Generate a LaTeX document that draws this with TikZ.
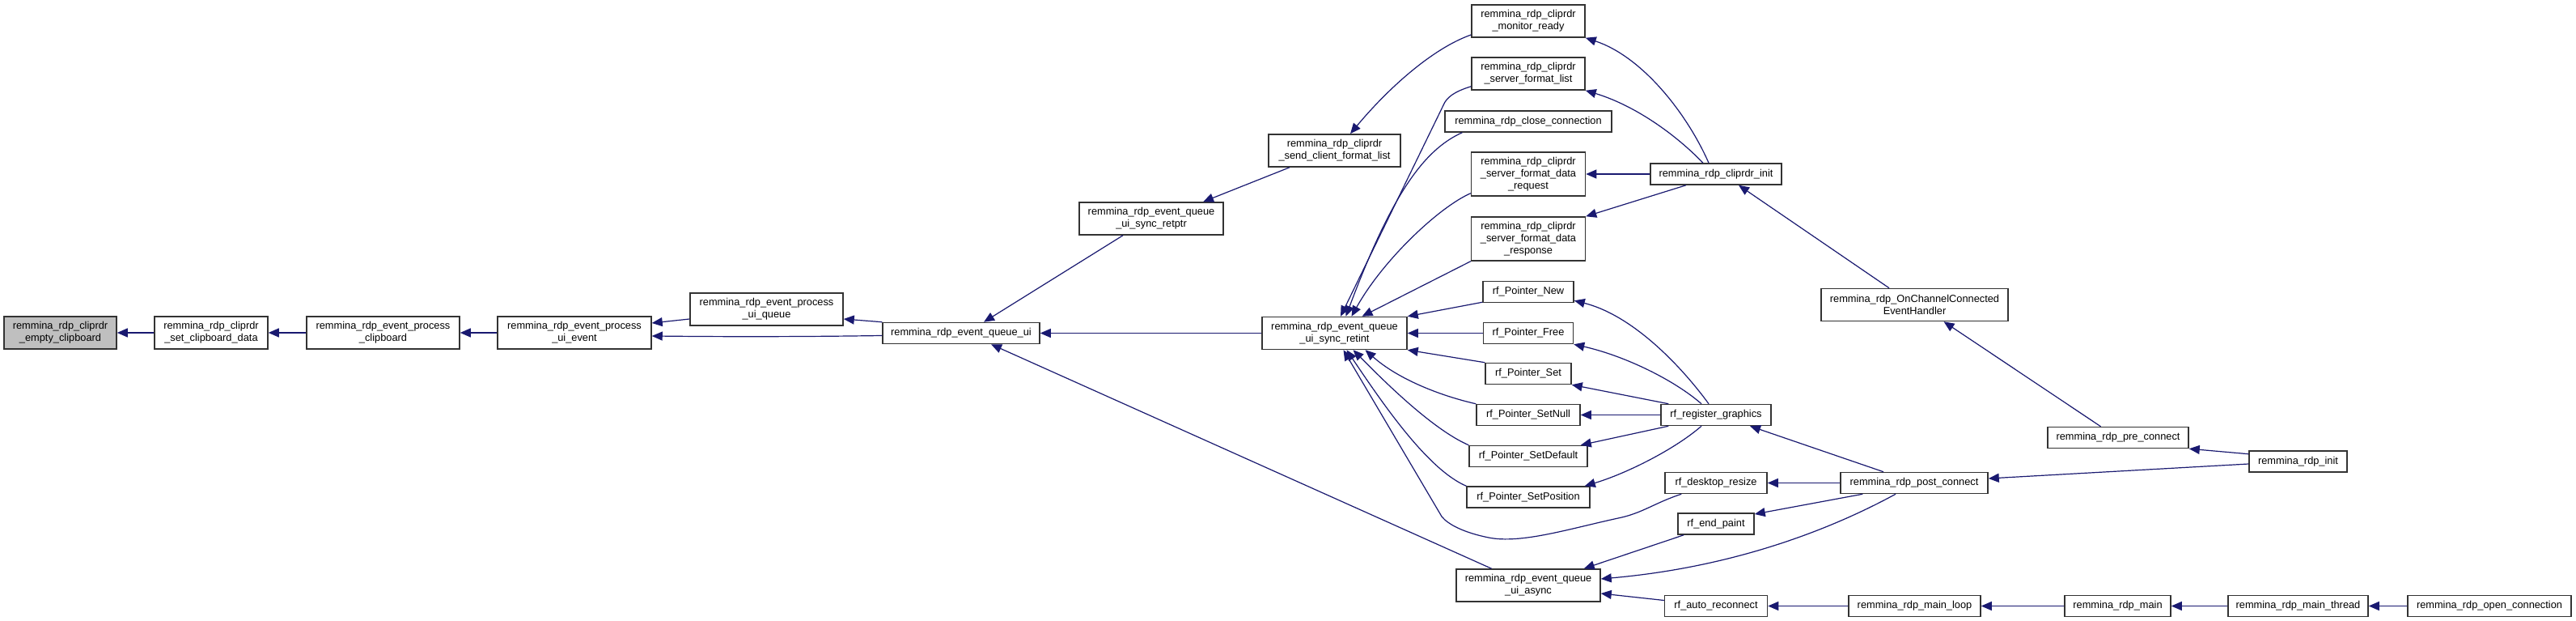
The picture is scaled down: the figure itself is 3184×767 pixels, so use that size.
\documentclass[tikz,border=0pt]{standalone}
\usepackage{fontspec}
\setmainfont{Liberation Sans}
\usetikzlibrary{arrows.meta,calc}
\definecolor{edgeblue}{HTML}{191970}
\definecolor{rootgray}{HTML}{BFBFBF}
\definecolor{boxline}{HTML}{333333}
\tikzset{
  fn/.style={draw=boxline, line width=1.5pt, fill=white, rectangle, inner xsep=0pt, inner ysep=0pt,
    align=center, font=\fontsize{12.8}{15}\selectfont, minimum height=26pt},
  two/.style={minimum height=40pt},
  three/.style={minimum height=54pt},
  root/.style={fill=rootgray},
  call/.style={draw=edgeblue, line width=1.2pt, -{Triangle[length=13pt,width=11pt]}},
}
\begin{document}
\begin{tikzpicture}[x=1pt,y=-1pt]
\fill[white] (0,0) rectangle (3184,767);
\useasboundingbox (0,0) rectangle (3184,767);
% left chain
\node[fn,two,root,minimum width=139pt] (n1) at (74.5,411) {remmina\_rdp\_cliprdr\\\_empty\_clipboard};
\node[fn,two,minimum width=140pt] (n2) at (261,411) {remmina\_rdp\_cliprdr\\\_set\_clipboard\_data};
\node[fn,two,minimum width=189pt] (n3) at (473.5,411) {remmina\_rdp\_event\_process\\\_clipboard};
\node[fn,two,minimum width=190pt] (n4) at (710,411) {remmina\_rdp\_event\_process\\\_ui\_event};
\node[fn,two,minimum width=189pt] (n5) at (947.5,382) {remmina\_rdp\_event\_process\\\_ui\_queue};
\node[fn,minimum width=194pt] (n6) at (1188,411.5) {remmina\_rdp\_event\_queue\_ui};
\node[fn,two,minimum width=178pt] (retptr) at (1423,270) {remmina\_rdp\_event\_queue\\\_ui\_sync\_retptr};
\node[fn,two,minimum width=163pt] (sendcfl) at (1649.5,186) {remmina\_rdp\_cliprdr\\\_send\_client\_format\_list};
\node[fn,two,minimum width=179pt] (retint) at (1649.5,411.5) {remmina\_rdp\_event\_queue\\\_ui\_sync\_retint};
% column 2
\node[fn,two,minimum width=140pt] (monready) at (1889,26) {remmina\_rdp\_cliprdr\\\_monitor\_ready};
\node[fn,two,minimum width=140pt] (sfl) at (1889,91) {remmina\_rdp\_cliprdr\\\_server\_format\_list};
\node[fn,minimum width=206pt] (close) at (1889,150) {remmina\_rdp\_close\_connection};
\node[fn,three,minimum width=141pt] (sfdreq) at (1889,215) {remmina\_rdp\_cliprdr\\\_server\_format\_data\\\_request};
\node[fn,three,minimum width=141pt] (sfdresp) at (1889,295) {remmina\_rdp\_cliprdr\\\_server\_format\_data\\\_response};
\node[fn,minimum width=112pt] (pnew) at (1889,360.5) {rf\_Pointer\_New};
\node[fn,minimum width=111pt] (pfree) at (1889,411.5) {rf\_Pointer\_Free};
\node[fn,minimum width=106pt] (pset) at (1889,461.5) {rf\_Pointer\_Set};
\node[fn,minimum width=128pt] (pnull) at (1889,512.5) {rf\_Pointer\_SetNull};
\node[fn,minimum width=146pt] (pdef) at (1889,563.5) {rf\_Pointer\_SetDefault};
\node[fn,minimum width=152pt] (ppos) at (1889,614) {rf\_Pointer\_SetPosition};
\node[fn,two,minimum width=178pt] (async) at (1889,723) {remmina\_rdp\_event\_queue\\\_ui\_async};
% column 3
\node[fn,minimum width=162pt] (cinit) at (2121,215) {remmina\_rdp\_cliprdr\_init};
\node[fn,minimum width=136pt] (reg) at (2121,512.5) {rf\_register\_graphics};
\node[fn,minimum width=126pt] (resize) at (2121,596.5) {rf\_desktop\_resize};
\node[fn,minimum width=94pt] (endpaint) at (2121,647) {rf\_end\_paint};
\node[fn,minimum width=127pt] (autorec) at (2121,748.5) {rf\_auto\_reconnect};
% column 4+
\node[fn,two,minimum width=231pt] (onchan) at (2366.5,376.5) {remmina\_rdp\_OnChannelConnected\\EventHandler};
\node[fn,minimum width=182pt] (post) at (2366,596.5) {remmina\_rdp\_post\_connect};
\node[fn,minimum width=163pt] (mainloop) at (2366.5,748.5) {remmina\_rdp\_main\_loop};
\node[fn,minimum width=174pt] (preconn) at (2618,540.5) {remmina\_rdp\_pre\_connect};
\node[fn,minimum width=131pt] (rdpmain) at (2617.5,748.5) {remmina\_rdp\_main};
\node[fn,minimum width=121pt] (rdpinit) at (2840.5,570) {remmina\_rdp\_init};
\node[fn,minimum width=173pt] (mainthread) at (2840.5,748.5) {remmina\_rdp\_main\_thread};
\node[fn,minimum width=202pt] (openconn) at (3077,748.5) {remmina\_rdp\_open\_connection};
% edges
\draw[call] (n2.west) -- (n1.east);
\draw[call] (n3.west) -- (n2.east);
\draw[call] (n4.west) -- (n3.east);
\draw[call] ($(n5.west)+(0,12)$) -- ($(n4.east)+(0,-12)$);
\draw[call] ($(n6.west)+(0,3)$) .. controls (950,416.5) and (860,415.5) .. ($(n4.east)+(0,4)$);
\draw[call] (n6.north west) -- ($(n5.east)+(0,12)$);
\draw[call] ($(retptr.south)+(-35,0)$) -- ($(n6.north)+(28,0)$);
\draw[call] (retint.west) -- (n6.east);
\draw[call] ($(async.north)+(-45.5,0)$) -- ($(n6.south)+(37,0)$);
\draw[call] ($(sendcfl.south)+(-55.5,0)$) -- ($(retptr.north)+(64,0)$);
\draw[call] ($(monready.west)+(0,17)$) .. controls (1770,60) and (1715,110) .. ($(sendcfl.north)+(19.5,0)$);
\draw[call] ($(cinit.north)+(-9,0)$) .. controls (2085,140) and (2030,70) .. (monready.south east);
\draw[call] ($(cinit.north)+(-16,0)$) .. controls (2070,165) and (2020,130) .. (sfl.south east);
\draw[call] (cinit.west) -- (sfdreq.east);
\draw[call] ($(cinit.south)+(-37,0)$) -- (sfdresp.north east);
\draw[call] ($(onchan.north)+(-31.5,0)$) -- ($(cinit.south)+(28,0)$);
\draw[call] ($(sfl.south west)+(0,-5)$) .. controls (1798,113) and (1788,120) .. (1784,130) -- ($(retint.north)+(7.5,0)$);
\draw[call] ($(close.south west)+(22,0)$) .. controls (1760,185) and (1720,240) .. ($(retint.north)+(14,0)$);
\draw[call] ($(sfdreq.south west)+(0,-4)$) .. controls (1780,255) and (1710,320) .. ($(retint.north)+(21,0)$);
\draw[call] (sfdresp.south west) -- ($(retint.north)+(34,0)$);
\draw[call] ($(pnew.south west)+(0,-1)$) -- (retint.north east);
\draw[call] (pfree.west) -- (retint.east);
\draw[call] (pset.north west) -- (retint.south east);
\draw[call] (pnull.north west) .. controls (1785,490) and (1730,470) .. ($(retint.south)+(38,0)$);
\draw[call] (pdef.north west) .. controls (1770,530) and (1710,470) .. ($(retint.south)+(23,0)$);
\draw[call] (ppos.north west) .. controls (1765,580) and (1710,500) .. ($(retint.south)+(15,0)$);
\draw[call] ($(resize.south west)+(21,0)$) .. controls (2045,621) and (2030,634) .. (2000,640)
  .. controls (1940,653) and (1880,672) .. (1840,664) .. controls (1810,658) and (1790,648) .. (1782,638)
  -- ($(retint.south)+(11,0)$);
\draw[call] ($(reg.north)+(-9,0)$) .. controls (2080,455) and (2020,390) .. ($(pnew.south east)+(0,-3)$);
\draw[call] ($(reg.north)+(-18,0)$) .. controls (2070,470) and (2010,440) .. (pfree.south east);
\draw[call] ($(reg.north west)+(10,0)$) -- (pset.south east);
\draw[call] (reg.west) -- (pnull.east);
\draw[call] ($(reg.south west)+(10,0)$) -- ($(pdef.north east)+(-9,0)$);
\draw[call] ($(reg.south)+(-18,0)$) .. controls (2070,555) and (2010,585) .. ($(ppos.north east)+(-7,0)$);
\draw[call] ($(post.north)+(-38,0)$) -- ($(reg.south)+(42,0)$);
\draw[call] (post.west) -- (resize.east);
\draw[call] ($(post.south west)+(28,0)$) -- ($(endpaint.east)+(0,-12)$);
\draw[call] ($(post.south)+(-23,0)$) .. controls (2270,650) and (2150,700) .. ($(async.east)+(0,-8)$);
\draw[call] ($(endpaint.south west)+(8,0)$) -- ($(async.north east)+(-21,0)$);
\draw[call] ($(autorec.west)+(0,-7)$) -- ($(async.east)+(0,10)$);
\draw[call] (mainloop.west) -- (autorec.east);
\draw[call] (rdpmain.west) -- (mainloop.east);
\draw[call] (mainthread.west) -- (rdpmain.east);
\draw[call] (openconn.west) -- (mainthread.east);
\draw[call] ($(preconn.north)+(-21.5,0)$) -- ($(onchan.south)+(36,0)$);
\draw[call] ($(rdpinit.north west)+(0,4.5)$) -- (preconn.south east);
\draw[call] ($(rdpinit.west)+(0,3)$) -- ($(post.east)+(0,-5.5)$);
\end{tikzpicture}
\end{document}
